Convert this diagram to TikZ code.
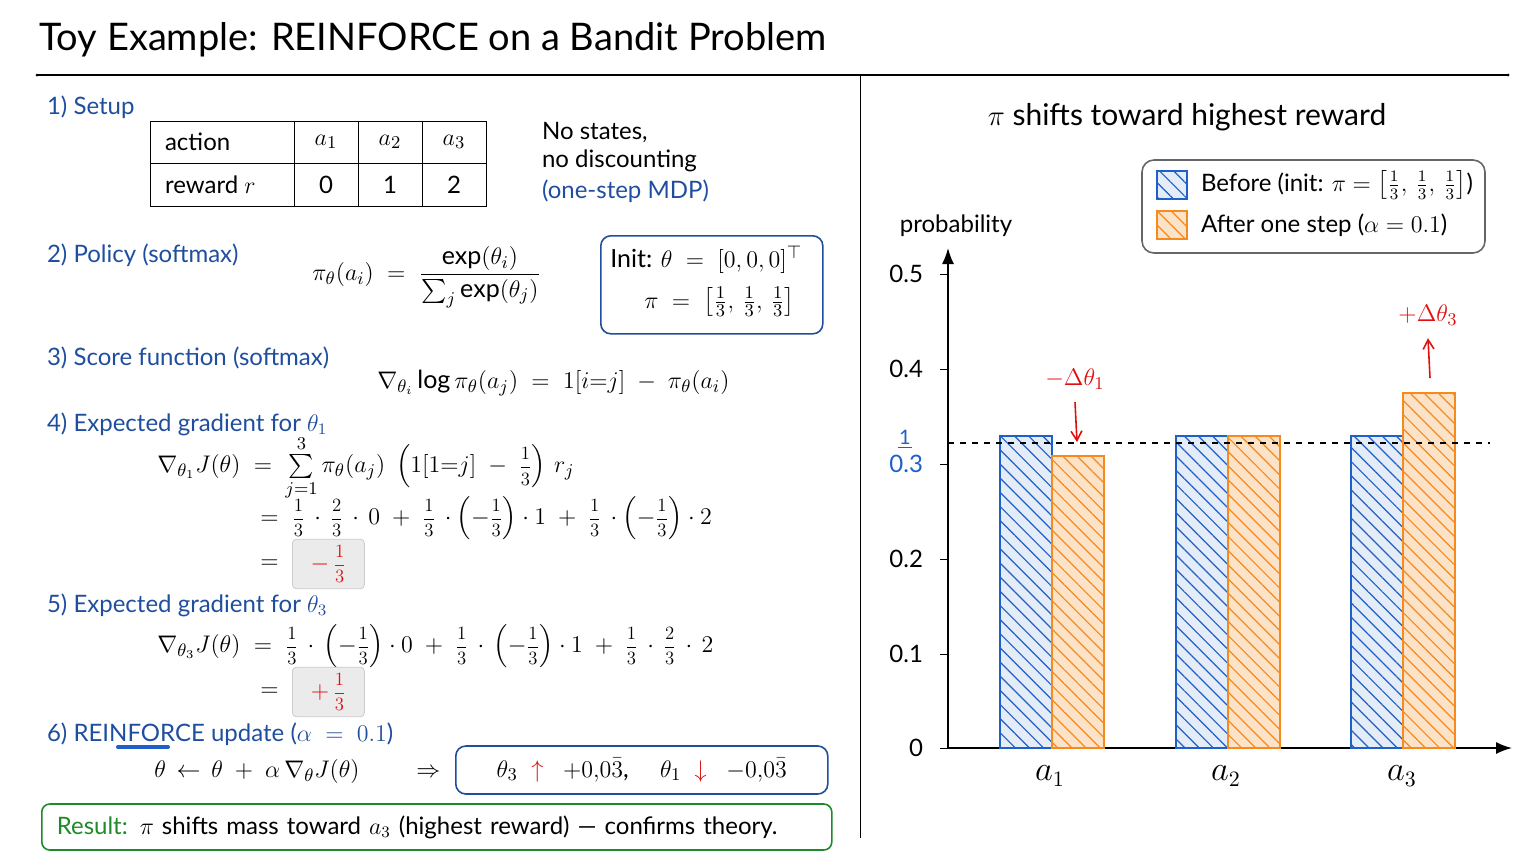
\documentclass[tikz,border=0pt]{standalone}
\usepackage{amsmath}
\usepackage{graphicx}
\usepackage{fontspec}
\setmainfont{Lato}
\usetikzlibrary{arrows.meta, positioning, patterns, patterns.meta}
\definecolor{secblue}{HTML}{1F4E9E}
\definecolor{barblue}{HTML}{1E5FC8}
\definecolor{barorange}{HTML}{F58A1F}
\definecolor{resgreen}{HTML}{1E8A2A}
\definecolor{gradred}{HTML}{E01010}
\newcommand{\mfr}[2]{\vcenter{\hbox{\scalebox{0.78}{$\dfrac{#1}{#2}$}}}}
\tikzset{
    sect/.style={anchor=west, text=secblue, font=\fontsize{12}{14}\selectfont},
    body/.style={anchor=west, font=\fontsize{12}{14}\selectfont},
    eqn/.style={anchor=west, font=\fontsize{12.5}{15}\selectfont, inner sep=1pt},
    tick/.style={anchor=east, font=\fontsize{12}{14}\selectfont},
    hl/.style={draw=black!20, fill=black!8, rounded corners=2pt, inner sep=3pt},
    rbox/.style={draw=secblue, thick, rounded corners=5pt, inner sep=5pt},
    before/.style={draw=barblue, thick, fill=barblue!12,
        postaction={pattern={Lines[angle=-45,distance=5pt,line width=0.6pt]}, pattern color=barblue}},
    after/.style={draw=barorange, thick, fill=barorange!25,
        postaction={pattern={Lines[angle=-45,distance=5pt,line width=0.6pt]}, pattern color=barorange}},
    redarr/.style={gradred, thick, -{Straight Barb[angle=60:3pt 3]}},
}
\begin{document}
\begin{tikzpicture}[x=0.5pt, y=-0.5pt]
\useasboundingbox (0,0) rectangle (1536,864);
% title and frame
\node[anchor=west, font=\fontsize{19}{22}\selectfont] (title) at (32,40) {Toy Example: REINFORCE on a Bandit Problem};
\draw[thick] (37,75) -- (1508,75);
\fill (37,75) circle (1.5) (1508,75) circle (1.5);
\draw (860,75) -- (860,838);

% 1) setup
\node[sect] (s1) at (40,107) {1) Setup};
\draw (150,121) rectangle (486,206) (150,163) -- (486,163);
\foreach \x in {294,358,422} \draw (\x,121) -- (\x,206);
\node[body] (hact) at (158,142) {action};
\node[body] (hrew) at (158,185) {reward $r$};
\foreach \x/\a/\r in {326/1/0,390/2/1,454/3/2}{
    \node[font=\fontsize{13}{14}\selectfont] at (\x,142) {$a_\a$};
    \node[font=\fontsize{12}{14}\selectfont] at (\x,185) {\r};
}
\node[body, align=left] (nost) at (535,147) {No states,\\no discounting};
\node[body, text=secblue] (mdp) at (535,191) {(one-step MDP)};

% 2) policy
\node[sect] (s2) at (40,255) {2) Policy (softmax)};
\node[eqn] (pol) at (310,277) {$\pi_\theta(a_i) \;=\; \dfrac{\exp(\theta_i)}{\sum_j \exp(\theta_j)}$};
\node[rbox, anchor=north west, minimum width=111pt, minimum height=49pt] (init) at (600,235) {};
\node[eqn] (init1) at (608,260) {Init: $\theta \;=\; [0,0,0]^\top$};
\node[eqn] (init2) at (642,302) {$\pi \;=\; \left[\tfrac13,\,\tfrac13,\,\tfrac13\right]$};

% 3) score
\node[sect] (s3) at (40,358) {3) Score function (softmax)};
\node[eqn] (score) at (375,383) {$\nabla_{\theta_i} \log\pi_\theta(a_j) \;=\; 1[i{=}j] \;-\; \pi_\theta(a_i)$};

% 4) theta1
\node[sect] (s4) at (40,424) {4) Expected gradient for $\theta_1$};
\node[eqn] (g1a) at (155,468) {$\nabla_{\theta_1} J(\theta) \;=\; \mathop{\textstyle\sum}\limits_{j=1}^{3} \pi_\theta(a_j)\;\left(1[1{=}j] \;-\; \mfr13\right)\, r_j$};
\node[eqn] (g1b) at (258,518) {$=\; \mfr13\,\cdot\,\mfr23\,\cdot\,0 \;+\; \mfr13\,\cdot\left(-\mfr13\right)\cdot 1 \;+\; \mfr13\,\cdot\left(-\mfr13\right)\cdot 2$};
\node[eqn] (g1c) at (258,564) {$=$};
\node[hl, anchor=west, minimum width=36pt, minimum height=20pt, text=gradred, font=\fontsize{12.5}{15}\selectfont] (r1) at (292,564) {$-\,\mfr13$};

% 5) theta3
\node[sect] (s5) at (40,605) {5) Expected gradient for $\theta_3$};
\node[eqn] (g3a) at (155,646) {$\nabla_{\theta_3} J(\theta) \;=\; \mfr13\,\cdot\,\left(-\mfr13\right)\cdot 0 \;+\; \mfr13\,\cdot\,\left(-\mfr13\right)\cdot 1 \;+\; \mfr13\,\cdot\,\mfr23\,\cdot\,2$};
\node[eqn] (g3b) at (258,692) {$=$};
\node[hl, anchor=west, minimum width=36pt, minimum height=20pt, text=gradred, font=\fontsize{12.5}{15}\selectfont] (r3) at (292,692) {$+\,\mfr13$};

% 6) update
\node[sect] (s6) at (40,734) {6) REINFORCE update ($\alpha\;=\;0.1$)};
\draw[barblue, line width=2pt, line cap=round] (118,747) -- (168,747);
\node[eqn] (upd) at (152,771) {$\theta \,\leftarrow\, \theta \;+\; \alpha\,\nabla_\theta J(\theta) \qquad \Rightarrow$};
\node[rbox, anchor=west, minimum width=186pt, minimum height=24pt, inner sep=3pt, font=\fontsize{12.5}{15}\selectfont] (updbox) at (455,770)
    {$\theta_3$\; \textcolor{gradred}{$\uparrow$} \; $+0{,}0\bar3$, \quad $\theta_1$\; \textcolor{gradred}{$\downarrow$} \; $-0{,}0\bar3$};

% result
\node[draw=resgreen, thick, rounded corners=4pt, anchor=west, minimum width=395pt, minimum height=23pt, text width=380pt, font=\fontsize{12}{14}\selectfont] (res) at (41,827)
    {\textcolor{resgreen}{Result:} $\pi$ shifts mass toward $a_3$ (highest reward) --- confirms theory.};

% chart
\node[font=\fontsize{15}{18}\selectfont] (ctitle) at (1187,117) {$\pi$ shifts toward highest reward};
\node[font=\fontsize{12}{14}\selectfont] (ylab) at (956,226) {probability};
\coordinate (origin) at (948,748);
\coordinate (xend) at (1512,748);
\coordinate (yend) at (948,248);
\draw[thick, -{Latex[length=8pt]}] (origin) -- (xend);
\draw[thick, -{Latex[length=8pt]}] (origin) -- (yend);
\foreach \v/\y in {0/748,0.1/654,0.2/559,0.4/369,0.5/274}{
    \draw (940,\y) -- (948,\y);
    \node[tick] at (930,\y) {\v};
}
\draw (940,464) -- (948,464);
\node[tick, text=barblue] (third) at (930,464) {0.3};
\node[text=barblue, font=\fontsize{10}{12}\selectfont, inner sep=1pt] (thirdn) at (905,437) {1};
\draw[barblue] (898,447) -- (912,447);
% bars
\draw[before] (1000,748) rectangle (1052,436);
\draw[after] (1052,748) rectangle (1104,456);
\draw[before] (1176,748) rectangle (1228,436);
\draw[after] (1228,748) rectangle (1280,436);
\draw[before] (1351,748) rectangle (1403,436);
\draw[after] (1403,748) rectangle (1455,393);
\draw[dashed, thick] (948,443) -- (1490,443);
\foreach \x/\i in {1050/1,1226/2,1402/3}
    \node[font=\fontsize{16}{18}\selectfont] (lab\i) at (\x,776) {$a_\i$};
% change markers
\node[text=gradred, font=\fontsize{13}{15}\selectfont] (dm) at (1075,379) {$-\Delta\theta_1$};
\coordinate (dmend) at (1077,442);
\draw[redarr] ([yshift=-3pt]dm.south) -- (dmend);
\node[text=gradred, font=\fontsize{13}{15}\selectfont] (dp) at (1428,315) {$+\Delta\theta_3$};
\coordinate (dpstart) at (1430,378);
\draw[redarr] (dpstart) -- ([yshift=-3pt]dp.south);
% legend
\draw[thick, black!60, rounded corners=6pt] (1142,160) rectangle (1485,253);
\draw[before] (1157,171) rectangle (1187,199);
\draw[after] (1157,211) rectangle (1187,239);
\node[body] (lb) at (1194,185) {Before (init: $\pi=\left[\tfrac13,\,\tfrac13,\,\tfrac13\right]$)};
\node[body] (la) at (1194,225) {After one step ($\alpha=0.1$)};
\end{tikzpicture}
\end{document}
